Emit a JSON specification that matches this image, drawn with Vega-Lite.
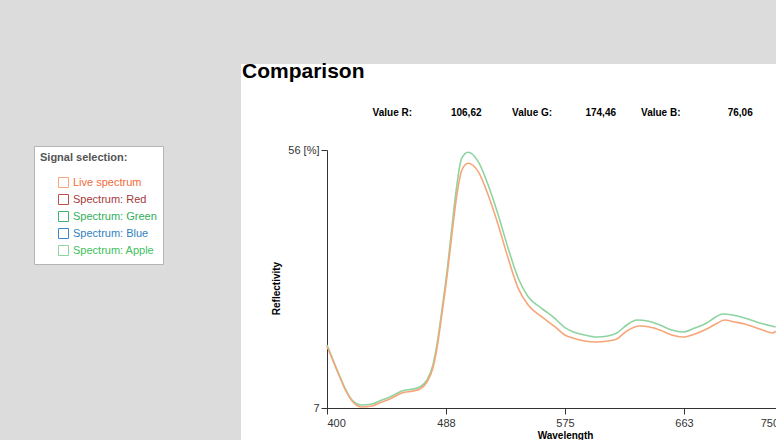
{
  "$schema": "https://vega.github.io/schema/vega-lite/v6.json",
  "width": 476,
  "height": 258,
  "autosize": {"type": "none"},
  "padding": {"left": 327, "top": 150, "right": 0, "bottom": 32},
  "background": "#dcdcdc",
  "title": {
    "text": "Comparison",
    "subtitle": "\u200b\u00a0\u00a0\u00a0\u00a0\u00a0\u00a0\u00a0\u00a0\u00a0\u00a0\u00a0\u00a0\u00a0\u00a0\u00a0\u00a0\u00a0\u00a0\u00a0\u00a0\u00a0\u00a0\u00a0\u00a0\u00a0\u00a0\u00a0\u00a0\u00a0\u00a0\u00a0\u00a0\u00a0\u00a0\u00a0\u00a0\u00a0\u00a0\u00a0\u00a0\u00a0\u00a0\u00a0\u00a0\u00a0\u00a0\u00a0Value R:\u00a0\u00a0\u00a0\u00a0\u00a0\u00a0\u00a0\u00a0\u00a0\u00a0\u00a0\u00a0\u00a0\u00a0106,62\u00a0\u00a0\u00a0\u00a0\u00a0\u00a0\u00a0\u00a0\u00a0\u00a0\u00a0Value G:\u00a0\u00a0\u00a0\u00a0\u00a0\u00a0\u00a0\u00a0\u00a0\u00a0\u00a0\u00a0174,46\u00a0\u00a0\u00a0\u00a0\u00a0\u00a0\u00a0\u00a0\u00a0Value B:\u00a0\u00a0\u00a0\u00a0\u00a0\u00a0\u00a0\u00a0\u00a0\u00a0\u00a0\u00a0\u00a0\u00a0\u00a0\u00a0\u00a076,06",
    "frame": "group",
    "anchor": "start",
    "dx": -85,
    "offset": 26,
    "font": "Liberation Sans",
    "fontSize": 21,
    "fontWeight": "bold",
    "color": "#000000",
    "subtitleFont": "Liberation Sans",
    "subtitleFontSize": 10,
    "subtitleFontWeight": "bold",
    "subtitleColor": "#000000",
    "subtitlePadding": 26
  },
  "data": {
    "values": [
      {"s": "Spectrum: Apple", "wl": 400.0, "r": 18.97},
      {"s": "Spectrum: Apple", "wl": 408.1, "r": 13.84},
      {"s": "Spectrum: Apple", "wl": 413.2, "r": 10.80},
      {"s": "Spectrum: Apple", "wl": 418.4, "r": 8.52},
      {"s": "Spectrum: Apple", "wl": 425.7, "r": 7.57},
      {"s": "Spectrum: Apple", "wl": 433.1, "r": 7.76},
      {"s": "Spectrum: Apple", "wl": 440.4, "r": 8.52},
      {"s": "Spectrum: Apple", "wl": 447.8, "r": 9.28},
      {"s": "Spectrum: Apple", "wl": 455.1, "r": 10.23},
      {"s": "Spectrum: Apple", "wl": 463.2, "r": 10.61},
      {"s": "Spectrum: Apple", "wl": 468.3, "r": 10.99},
      {"s": "Spectrum: Apple", "wl": 473.5, "r": 12.32},
      {"s": "Spectrum: Apple", "wl": 477.9, "r": 15.17},
      {"s": "Spectrum: Apple", "wl": 480.8, "r": 18.97},
      {"s": "Spectrum: Apple", "wl": 484.5, "r": 25.61},
      {"s": "Spectrum: Apple", "wl": 488.2, "r": 32.83},
      {"s": "Spectrum: Apple", "wl": 491.8, "r": 41.19},
      {"s": "Spectrum: Apple", "wl": 495.5, "r": 49.36},
      {"s": "Spectrum: Apple", "wl": 499.0, "r": 54.43},
      {"s": "Spectrum: Apple", "wl": 503.8, "r": 55.57},
      {"s": "Spectrum: Apple", "wl": 511.2, "r": 53.78},
      {"s": "Spectrum: Apple", "wl": 518.5, "r": 49.36},
      {"s": "Spectrum: Apple", "wl": 525.9, "r": 43.66},
      {"s": "Spectrum: Apple", "wl": 533.2, "r": 37.34},
      {"s": "Spectrum: Apple", "wl": 540.6, "r": 31.64},
      {"s": "Spectrum: Apple", "wl": 547.9, "r": 28.14},
      {"s": "Spectrum: Apple", "wl": 557.8, "r": 25.94},
      {"s": "Spectrum: Apple", "wl": 567.5, "r": 24.04},
      {"s": "Spectrum: Apple", "wl": 574.9, "r": 22.25},
      {"s": "Spectrum: Apple", "wl": 580.7, "r": 21.50},
      {"s": "Spectrum: Apple", "wl": 589.6, "r": 20.87},
      {"s": "Spectrum: Apple", "wl": 598.4, "r": 20.49},
      {"s": "Spectrum: Apple", "wl": 606.5, "r": 20.68},
      {"s": "Spectrum: Apple", "wl": 613.1, "r": 21.25},
      {"s": "Spectrum: Apple", "wl": 620.4, "r": 22.76},
      {"s": "Spectrum: Apple", "wl": 627.8, "r": 23.71},
      {"s": "Spectrum: Apple", "wl": 635.9, "r": 23.52},
      {"s": "Spectrum: Apple", "wl": 644.7, "r": 22.76},
      {"s": "Spectrum: Apple", "wl": 653.5, "r": 21.81},
      {"s": "Spectrum: Apple", "wl": 661.6, "r": 21.43},
      {"s": "Spectrum: Apple", "wl": 670.4, "r": 22.19},
      {"s": "Spectrum: Apple", "wl": 679.2, "r": 23.14},
      {"s": "Spectrum: Apple", "wl": 685.8, "r": 24.28},
      {"s": "Spectrum: Apple", "wl": 691.0, "r": 24.85},
      {"s": "Spectrum: Apple", "wl": 698.3, "r": 24.66},
      {"s": "Spectrum: Apple", "wl": 707.1, "r": 24.09},
      {"s": "Spectrum: Apple", "wl": 718.2, "r": 23.14},
      {"s": "Spectrum: Apple", "wl": 729.9, "r": 22.38},
      {"s": "Live spectrum", "wl": 400.0, "r": 18.78},
      {"s": "Live spectrum", "wl": 408.1, "r": 13.65},
      {"s": "Live spectrum", "wl": 413.2, "r": 10.61},
      {"s": "Live spectrum", "wl": 418.4, "r": 8.33},
      {"s": "Live spectrum", "wl": 425.7, "r": 7.19},
      {"s": "Live spectrum", "wl": 433.1, "r": 7.38},
      {"s": "Live spectrum", "wl": 440.4, "r": 8.14},
      {"s": "Live spectrum", "wl": 447.8, "r": 8.90},
      {"s": "Live spectrum", "wl": 455.1, "r": 9.85},
      {"s": "Live spectrum", "wl": 463.2, "r": 10.23},
      {"s": "Live spectrum", "wl": 468.3, "r": 10.61},
      {"s": "Live spectrum", "wl": 473.5, "r": 11.94},
      {"s": "Live spectrum", "wl": 477.9, "r": 14.60},
      {"s": "Live spectrum", "wl": 480.8, "r": 18.21},
      {"s": "Live spectrum", "wl": 484.5, "r": 24.85},
      {"s": "Live spectrum", "wl": 488.2, "r": 31.88},
      {"s": "Live spectrum", "wl": 491.8, "r": 39.86},
      {"s": "Live spectrum", "wl": 495.5, "r": 47.46},
      {"s": "Live spectrum", "wl": 499.2, "r": 52.20},
      {"s": "Live spectrum", "wl": 503.8, "r": 53.48},
      {"s": "Live spectrum", "wl": 511.2, "r": 51.88},
      {"s": "Live spectrum", "wl": 518.5, "r": 47.46},
      {"s": "Live spectrum", "wl": 525.9, "r": 41.76},
      {"s": "Live spectrum", "wl": 533.2, "r": 35.43},
      {"s": "Live spectrum", "wl": 540.6, "r": 29.73},
      {"s": "Live spectrum", "wl": 547.9, "r": 26.56},
      {"s": "Live spectrum", "wl": 557.8, "r": 24.34},
      {"s": "Live spectrum", "wl": 567.5, "r": 22.44},
      {"s": "Live spectrum", "wl": 574.9, "r": 20.87},
      {"s": "Live spectrum", "wl": 580.7, "r": 20.30},
      {"s": "Live spectrum", "wl": 589.6, "r": 19.73},
      {"s": "Live spectrum", "wl": 598.4, "r": 19.54},
      {"s": "Live spectrum", "wl": 606.5, "r": 19.73},
      {"s": "Live spectrum", "wl": 613.1, "r": 20.11},
      {"s": "Live spectrum", "wl": 620.4, "r": 21.62},
      {"s": "Live spectrum", "wl": 630.0, "r": 22.57},
      {"s": "Live spectrum", "wl": 637.3, "r": 22.38},
      {"s": "Live spectrum", "wl": 644.7, "r": 21.81},
      {"s": "Live spectrum", "wl": 653.5, "r": 20.87},
      {"s": "Live spectrum", "wl": 661.6, "r": 20.49},
      {"s": "Live spectrum", "wl": 670.4, "r": 21.05},
      {"s": "Live spectrum", "wl": 679.2, "r": 22.00},
      {"s": "Live spectrum", "wl": 685.8, "r": 22.95},
      {"s": "Live spectrum", "wl": 692.4, "r": 23.71},
      {"s": "Live spectrum", "wl": 699.8, "r": 23.33},
      {"s": "Live spectrum", "wl": 707.1, "r": 22.95},
      {"s": "Live spectrum", "wl": 718.2, "r": 22.00},
      {"s": "Live spectrum", "wl": 727.7, "r": 21.24},
      {"s": "Live spectrum", "wl": 729.9, "r": 21.60}
    ]
  },
  "mark": {"type": "line", "strokeWidth": 1.6, "interpolate": "monotone"},
  "encoding": {
    "x": {
      "field": "wl",
      "type": "quantitative",
      "title": "Wavelength",
      "scale": {"domain": [400, 750], "nice": false, "zero": false},
      "axis": {
        "values": [400, 487.5, 575, 662.5, 750],
        "labelExpr": "datum.value == 750 ? '750 [nm]' : format(datum.value, '.0f')",
        "labelFlush": true,
        "grid": false,
        "tickSize": 6,
        "labelPadding": 3,
        "titlePadding": 2
      }
    },
    "y": {
      "field": "r",
      "type": "quantitative",
      "title": "Reflectivity",
      "scale": {"domain": [7, 56], "nice": false, "zero": false},
      "axis": {
        "values": [7, 56],
        "labelExpr": "datum.value == 56 ? '56 [%]' : '7'",
        "labelFlush": false,
        "grid": false,
        "tickSize": 6,
        "labelPadding": 2,
        "titleX": -46,
        "titleY": 138
      }
    },
    "color": {
      "field": "s",
      "type": "nominal",
      "scale": {
        "domain": ["Live spectrum", "Spectrum: Red", "Spectrum: Green", "Spectrum: Blue", "Spectrum: Apple"],
        "range": ["#f6a679", "#c0504d", "#3cb371", "#3a86c8", "#8ed3a0"]
      },
      "legend": {
        "title": "Signal selection:",
        "orient": "none",
        "legendX": -293,
        "legendY": -4,
        "padding": 6,
        "fillColor": "#ffffff",
        "strokeColor": "#b5b5b5",
        "titleFont": "Liberation Sans",
        "titleFontSize": 11,
        "titleFontWeight": "bold",
        "titleColor": "#555555",
        "titlePadding": 14,
        "labelFont": "Liberation Sans",
        "labelFontSize": 11,
        "labelColor": {"expr": "datum.value === 'Live spectrum' ? '#f26c3a' : datum.value === 'Spectrum: Red' ? '#a33a3a' : datum.value === 'Spectrum: Green' ? '#2fae5a' : datum.value === 'Spectrum: Blue' ? '#2f7fc1' : '#3cbf5c'"},
        "symbolType": "square",
        "symbolSize": 100,
        "symbolOffset": 18,
        "symbolFillColor": "#ffffff",
        "symbolStrokeColor": "#555555",
        "symbolStrokeWidth": 1,
        "rowPadding": 2,
        "offset": 0
      }
    }
  },
  "config": {
    "view": {"fill": "#ffffff", "stroke": "#ffffff", "strokeWidth": 172},
    "axis": {
      "domainColor": "#333333",
      "tickColor": "#333333",
      "labelColor": "#333333",
      "labelFont": "Liberation Sans",
      "labelFontSize": 11,
      "titleFont": "Liberation Sans",
      "titleFontSize": 10,
      "titleFontWeight": "bold",
      "titleColor": "#000000"
    }
  }
}
